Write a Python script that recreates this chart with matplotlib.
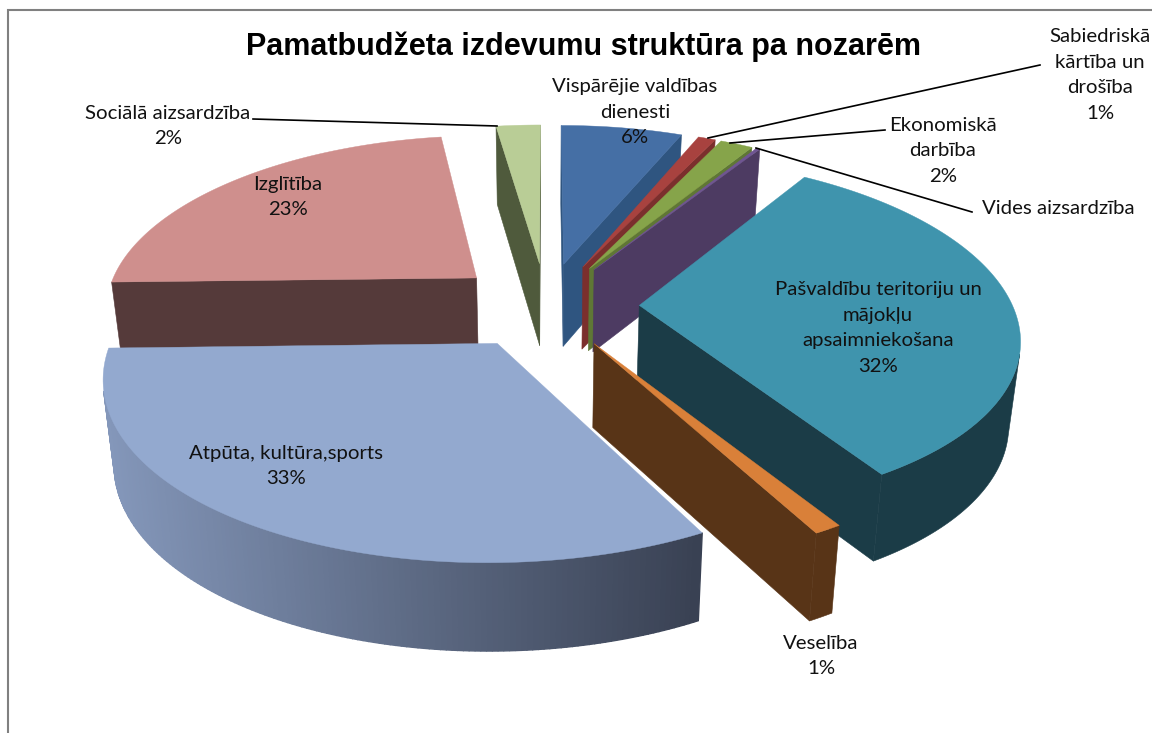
import numpy as np
import matplotlib
matplotlib.use("Agg")
import matplotlib.pyplot as plt
from matplotlib.colors import to_rgb
from matplotlib.patches import Polygon

## DATA ###
title = "Pamatbudžeta izdevumu struktūra pa nozarēm"
names = ["Vispārējie valdības dienesti", "Sabiedriskā kārtība un drošība", "Ekonomiskā darbība",
         "Vides aizsardzība", "Pašvaldību teritoriju un mājokļu apsaimniekošana", "Veselība",
         "Atpūta, kultūra,sports", "Izglītība", "Sociālā aizsardzība"]
# shares in percent, the printed labels are rounded
values = [6.3, 0.9, 1.7, 0.2, 32.3, 1.0, 32.5, 23.2, 2.3]
top_colors = ["#456fa5", "#a8423f", "#86a44a", "#6f5592", "#3f94ad", "#d98039", "#93a9cf", "#cf8f8d", "#b9cd96"]
wall_colors = ["#2f5580", "#7b2f2d", "#5f7735", "#4d3b62", "#1b3c47", "#583417", "#8093b6", "#553a3a", "#4f5a3c"]
label_texts = ["Vispārējie valdības\ndienesti\n6%", "Sabiedriskā\nkārtība un\ndrošība\n1%", "Ekonomiskā\ndarbība\n2%",
               "Vides aizsardzība", "Pašvaldību teritoriju un\nmājokļu\napsaimniekošana\n32%", "Veselība\n1%",
               "Atpūta, kultūra,sports\n33%", "Izglītība\n23%", "Sociālā aizsardzība\n2%"]
label_pos = [(635, 112), (1100, 75), (943, 151), (1058, 208), (878, 328), (821, 656), (286, 466), (288, 197), (168, 126)]
leader_lines = [((253, 119), (497, 126)), ((708, 138), (1040, 65)), ((730, 143), (885, 130)), ((756, 148), (972, 212))]

# projection of the pie plane on the picture
cx, cy = 546, 305
f, g = 373, 172
k = 0.155
kx = 0.165
explode = 0.25
depth = 83
depth_k = 0.05
shrink = 0.975


def project(x, z, low=False):
    sx = f * x / (1 + kx * z)
    sy = -g * z / (1 + k * z)
    if low:
        return cx + sx * shrink, cy + sy + depth / (1 + depth_k * z)
    return cx + sx, cy + sy


def area(pts):
    a = 0
    for i in range(len(pts)):
        x0, y0 = pts[i]
        x1, y1 = pts[(i + 1) % len(pts)]
        a += x0 * y1 - x1 * y0
    return a


fig = plt.figure(figsize=(11.52, 7.33), dpi=100)
ax = fig.add_axes([0, 0, 1, 1])
ax.set_xlim(0, 1152)
ax.set_ylim(733, 0)
ax.axis("off")

# frame of the chart, cut off by the screenshot
ax.plot([8, 8, 1152], [733, 10, 10], color="#808080", lw=1.5, solid_joinstyle="miter")

edges = np.cumsum([0] + values) / sum(values) * 2 * np.pi
slices = []
for i in range(len(values)):
    mid = (edges[i] + edges[i + 1]) / 2
    slices.append((np.cos(mid), i))

# back to front
for _, i in sorted(slices, reverse=True):
    t0, t1 = edges[i], edges[i + 1]
    mid = (t0 + t1) / 2
    ox, oz = explode * np.sin(mid), explode * np.cos(mid)
    ts = np.linspace(t0, t1, max(3, int((t1 - t0) * 80)))
    rim = [(ox + np.sin(t), oz + np.cos(t)) for t in ts]
    top = [project(*p) for p in rim]
    low = [project(*p, low=True) for p in rim]
    apex = project(ox, oz)
    apex_low = project(ox, oz, low=True)
    wall = wall_colors[i]

    for rim_top, rim_low, sign in [(top[0], low[0], -1), (top[-1], low[-1], 1)]:
        quad = [apex, rim_top, rim_low, apex_low]
        if area(quad) * sign > 0:
            ax.add_patch(Polygon(quad, fc=wall, ec=wall, lw=0.4, zorder=2))

    seen = [j for j in range(len(ts) - 1) if area([top[j], top[j + 1], low[j + 1], low[j]]) < 0]
    if seen and i == 6:
        # the big slice has a shaded wall, light on the left
        for j in seen:
            quad = [top[j], top[j + 1], low[j + 1], low[j]]
            s = np.clip((quad[0][0] - 105) / 595, 0, 1)
            c = tuple((1 - s) * a + s * b for a, b in zip(to_rgb("#8497ba"), to_rgb("#394153")))
            ax.add_patch(Polygon(quad, fc=c, ec=c, lw=1.0, zorder=2))
    elif seen:
        outline = [top[j] for j in seen] + [top[seen[-1] + 1], low[seen[-1] + 1]] + [low[j] for j in reversed(seen)]
        ax.add_patch(Polygon(outline, fc=wall, ec=wall, lw=0.4, zorder=2))

    ax.add_patch(Polygon([apex] + top, fc=top_colors[i], ec=top_colors[i], lw=0.3, zorder=2))

for a, b in leader_lines:
    ax.plot([a[0], b[0]], [a[1], b[1]], color="black", lw=1.2, zorder=3)

ax.text(583, 47, title, ha="center", va="center", fontsize=22, fontweight="bold",
        family="Liberation Sans", color="black", zorder=4)
for txt, (x, y) in zip(label_texts, label_pos):
    ax.text(x, y, txt, ha="center", va="center", fontsize=14.7, family="Lato",
            color="#111111", linespacing=1.62, zorder=4)

fig.savefig("out.png", dpi=100)
